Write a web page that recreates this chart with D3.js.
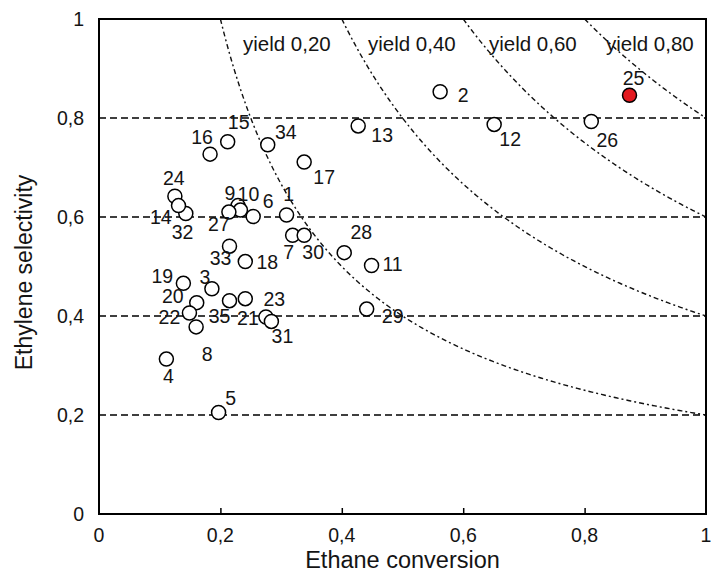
<!DOCTYPE html>
<html>
<head>
<meta charset="utf-8">
<script src="https://cdn.jsdelivr.net/npm/d3@7"></script>
<style>
  html, body { margin: 0; padding: 0; background: #fff; }
  svg { display: block; font-family: "Liberation Sans", Arial, sans-serif; }
</style>
</head>
<body>
<svg id="chart" width="711" height="576"></svg>
<script>
// ---- data ----
const ids = [1,2,3,4,5,6,7,8,9,10,11,12,13,14,15,16,17,18,19,20,21,22,23,24,25,26,27,28,29,30,31,32,33,34,35];
const conversion = [0.309,0.562,0.186,0.111,0.197,0.254,0.319,0.160,0.229,0.233,0.449,0.651,0.427,0.143,0.212,0.183,0.338,0.241,0.139,0.161,0.275,0.149,0.241,0.125,0.874,0.811,0.214,0.404,0.441,0.338,0.284,0.131,0.215,0.278,0.215];
const selectivity = [0.604,0.853,0.455,0.313,0.205,0.601,0.563,0.378,0.623,0.614,0.502,0.787,0.784,0.607,0.752,0.727,0.711,0.510,0.466,0.427,0.398,0.406,0.435,0.642,0.846,0.793,0.610,0.528,0.414,0.563,0.389,0.623,0.541,0.746,0.431];
const highlighted = [25];
const yields = [0.2, 0.4, 0.6, 0.8];
const yieldLabels = ["yield 0,20", "yield 0,40", "yield 0,60", "yield 0,80"];
const xTicks = [0, 0.2, 0.4, 0.6, 0.8, 1];
const xTickLabels = ["0", "0,2", "0,4", "0,6", "0,8", "1"];
const yTicks = [0, 0.2, 0.4, 0.6, 0.8, 1];
const yTickLabels = ["0", "0,2", "0,4", "0,6", "0,8", "1"];
const gridValues = [0.2, 0.4, 0.6, 0.8];

// ---- layout (label placement relative to marker, in px) ----
const labelOffsets = {
  1:[2,-21], 2:[23,3], 3:[-7,-12], 4:[2,17], 5:[12,-14], 6:[15,-15], 7:[-4,17], 8:[11,27],
  9:[-8,-12], 10:[8,-16], 11:[21,-1], 12:[16,15], 13:[24,9], 14:[-25,4], 15:[11,-20],
  16:[-8,-17], 17:[20,15], 18:[22,1], 19:[-21,-7], 20:[-24,-6], 21:[-18,1], 22:[-20,4],
  23:[29,0], 24:[-1,-18], 25:[4,-17], 26:[16,19], 27:[-10,12], 28:[17,-20], 29:[26,7],
  30:[9,17], 31:[11,15], 32:[4,27], 33:[-9,12], 34:[18,-13], 35:[-10,16]
};
const yieldLabelX = [243, 368, 489, 606];

const svg = d3.select("#chart");
const mLeft = 99, mRight = 706, mTop = 19, mBottom = 514;
const x = d3.scaleLinear().domain([0, 1]).range([mLeft, mRight]);
const y = d3.scaleLinear().domain([0, 1]).range([mBottom, mTop]);
const ink = "#141414";

// gridlines
svg.append("g").selectAll("line").data(gridValues).join("line")
  .attr("x1", x(0)).attr("x2", x(1))
  .attr("y1", d => y(d)).attr("y2", d => y(d))
  .attr("stroke", "#000").attr("stroke-width", 1.3)
  .attr("stroke-dasharray", "7,4");

// yield iso-curves
const curveLine = d3.line().x(d => x(d[0])).y(d => y(d[1]));
const g = svg.append("g");
yields.forEach(Y => {
  const pts = d3.range(0, 201).map(i => {
    const cx = Y + (1 - Y) * i / 200;
    return [cx, Y / cx];
  });
  g.append("path").datum(pts).attr("d", curveLine)
    .attr("fill", "none").attr("stroke", "#111").attr("stroke-width", 1.4)
    .attr("stroke-dasharray", "5,3,2,3");
});

// yield labels
svg.append("g").selectAll("text").data(yields).join("text")
  .attr("x", (d, i) => yieldLabelX[i]).attr("y", y(0.935))
  .attr("font-size", 20.5).attr("fill", ink)
  .text((d, i) => yieldLabels[i]);

// frame
svg.append("rect").attr("x", mLeft).attr("y", mTop)
  .attr("width", mRight - mLeft).attr("height", mBottom - mTop)
  .attr("fill", "none").attr("stroke", "#000").attr("stroke-width", 2);

// x axis: inward ticks
const xAxis = d3.axisTop(x).tickValues(xTicks.slice(1, -1)).tickSize(6).tickFormat("");
const xa = svg.append("g").attr("transform", `translate(0,${mBottom})`).call(xAxis);
xa.select(".domain").remove();
xa.selectAll("line").attr("stroke", "#000").attr("stroke-width", 1.5);

// tick labels
svg.append("g").selectAll("text").data(xTicks).join("text")
  .attr("x", d => x(d)).attr("y", mBottom + 28)
  .attr("text-anchor", "middle").attr("font-size", 19.5).attr("fill", ink)
  .text((d, i) => xTickLabels[i]);
svg.append("g").selectAll("text").data(yTicks).join("text")
  .attr("x", mLeft - 15).attr("y", d => y(d)).attr("dy", "0.35em")
  .attr("text-anchor", "end").attr("font-size", 19.5).attr("fill", ink)
  .text((d, i) => yTickLabels[i]);

// axis titles
svg.append("text").attr("x", (mLeft + mRight) / 2).attr("y", 568)
  .attr("text-anchor", "middle").attr("font-size", 23.5).attr("fill", ink)
  .text("Ethane conversion");
svg.append("text").attr("transform", `translate(32,${(mTop + mBottom) / 2 + 6}) rotate(-90)`)
  .attr("text-anchor", "middle").attr("font-size", 23).attr("fill", ink)
  .text("Ethylene selectivity");

// points
const pts = ids.map((id, i) => ({ id, cx: conversion[i], s: selectivity[i] }));
svg.append("g").selectAll("circle").data(pts).join("circle")
  .attr("cx", d => x(d.cx)).attr("cy", d => y(d.s)).attr("r", 7)
  .attr("fill", d => highlighted.includes(d.id) ? "#e3191f" : "#fff")
  .attr("stroke", "#000").attr("stroke-width", 1.5);

// point labels
svg.append("g").selectAll("text").data(pts).join("text")
  .attr("x", d => x(d.cx) + labelOffsets[d.id][0])
  .attr("y", d => y(d.s) + labelOffsets[d.id][1])
  .attr("dy", "0.35em").attr("text-anchor", "middle")
  .attr("font-size", 19.5).attr("fill", ink)
  .text(d => d.id);
</script>
</body>
</html>
